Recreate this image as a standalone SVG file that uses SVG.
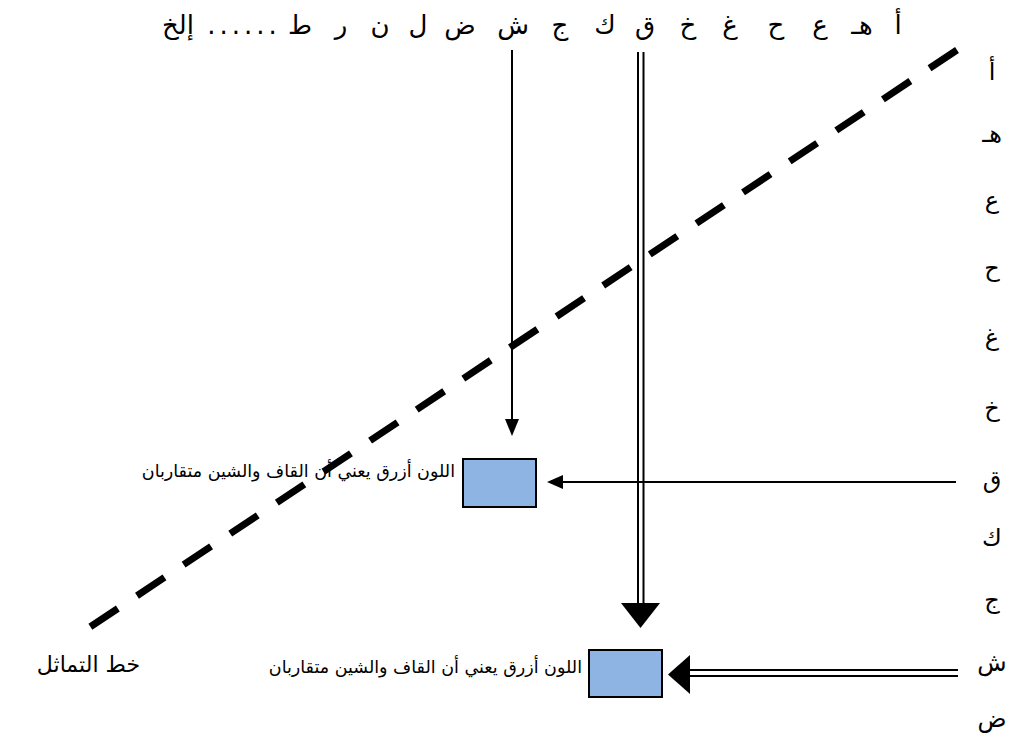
<svg xmlns="http://www.w3.org/2000/svg" width="1012" height="749" viewBox="0 0 1012 749">
<defs>
<style>
.ar{font-family:"DejaVu Sans","Liberation Serif",serif;fill:#000;text-anchor:middle}
.top{font-size:26px}
.col{font-size:24px}
.lbl{font-family:"DejaVu Sans","Liberation Serif",serif;font-size:17.5px;text-anchor:end}
.ln{stroke:#000;stroke-width:2;fill:none}
.box{fill:#8EB4E3;stroke:#000;stroke-width:2}
</style>
</defs>
<rect width="1012" height="749" fill="#fff"/>
<g id="top-letters" class="ar top">
<text x="898" y="34">أ</text>
<text x="862" y="34">هـ</text>
<text x="820" y="34">ع</text>
<text x="776" y="34">ح</text>
<text x="730" y="34">غ</text>
<text x="688" y="34">خ</text>
<text x="645" y="34">ق</text>
<text x="605" y="34">ك</text>
<text x="560" y="34">ج</text>
<text x="513" y="34">ش</text>
<text x="460" y="34">ض</text>
<text x="418" y="34">ل</text>
<text x="380" y="34">ن</text>
<text x="341" y="34">ر</text>
<text x="300" y="34">ط</text>
<text x="244" y="34" style="letter-spacing:4px">......</text>
<text x="178" y="34">إلخ</text>
</g>
<g id="side-letters" class="ar col">
<text x="992" y="80">أ</text>
<text x="992" y="142">هـ</text>
<text x="992" y="208">ع</text>
<text x="992" y="276">ح</text>
<text x="992" y="345">غ</text>
<text x="992" y="416">خ</text>
<text x="992" y="488">ق</text>
<text x="992" y="546">ك</text>
<text x="992" y="608">ج</text>
<text x="992" y="671">ش</text>
<text x="992" y="727">ض</text>
</g>
<g id="symmetry-line">
<line x1="957" y1="50" x2="90" y2="627" stroke="#000" stroke-width="7" stroke-dasharray="33 23"/>
<text x="140" y="672" class="ar" style="font-size:22px;text-anchor:end">خط التماثل</text>
</g>
<g id="box1">
<rect x="463" y="459" width="73" height="48" class="box"/>
<text x="455" y="477" class="lbl">اللون أزرق يعني أن القاف والشين متقاربان</text>
</g>
<g id="box2">
<rect x="589" y="650" width="73" height="47" class="box"/>
<text x="582" y="673" class="lbl">اللون أزرق يعني أن القاف والشين متقاربان</text>
</g>
<g id="connectors">
<line x1="512" y1="50" x2="512" y2="420" class="ln"/>
<polygon points="505,419 519,419 512,436"/>
<line x1="956" y1="482" x2="562" y2="482" class="ln"/>
<polygon points="563,475 563,489 547,482"/>
<line x1="638" y1="52" x2="638" y2="604" class="ln"/>
<line x1="643.5" y1="52" x2="643.5" y2="604" class="ln"/>
<polygon points="621,603 660,603 640.5,628"/>
<line x1="958" y1="670" x2="689" y2="670" class="ln"/>
<line x1="958" y1="676" x2="689" y2="676" class="ln"/>
<polygon points="690,655 690,694 668,674.5"/>
</g>
</svg>
